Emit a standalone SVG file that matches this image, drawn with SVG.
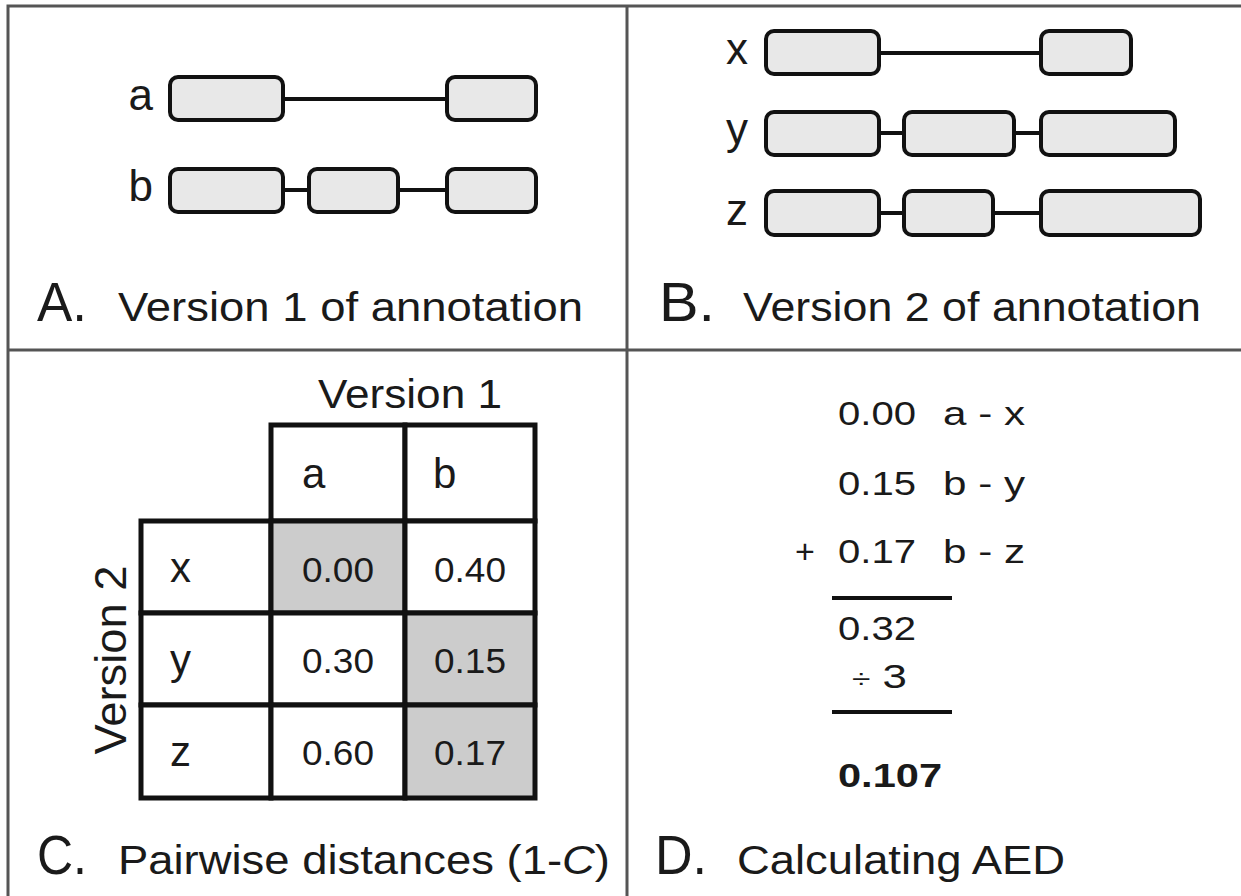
<svg xmlns="http://www.w3.org/2000/svg" width="1241" height="896" viewBox="0 0 1241 896">
<style>
.t{font-family:"Liberation Sans",Arial,sans-serif;fill:#1a1a1a}
.ex{fill:#e8e8e8;stroke:#111;stroke-width:4}
.in{stroke:#111;stroke-width:4;fill:none}
.cell{stroke:#111;stroke-width:5;fill:#fff}
.g{fill:#cccccc}
.frame{fill:none;stroke:#555;stroke-width:3}
.rule{stroke:#111;stroke-width:4}
</style>
<rect width="1241" height="896" fill="#fff"/>
<g id="frame">
<rect class="frame" x="8" y="6" width="1240" height="895"/>
<line class="frame" x1="627" y1="6" x2="627" y2="896"/>
<line class="frame" x1="8" y1="350" x2="1241" y2="350"/>
</g>
<g id="connectors">
<line class="in" x1="283" y1="99" x2="447" y2="99"/>
<line class="in" x1="283" y1="190" x2="309" y2="190"/>
<line class="in" x1="398" y1="190" x2="447" y2="190"/>
<line class="in" x1="879" y1="53" x2="1041" y2="53"/>
<line class="in" x1="879" y1="133" x2="904" y2="133"/>
<line class="in" x1="1014" y1="133" x2="1041" y2="133"/>
<line class="in" x1="879" y1="213" x2="904" y2="213"/>
<line class="in" x1="993" y1="213" x2="1041" y2="213"/>
</g>
<g id="gene-a">
<text class="t" x="153" y="110" font-size="44" text-anchor="end">a</text>
<rect class="ex" x="170" y="77" width="113" height="43" rx="8"/>
<rect class="ex" x="447" y="77" width="89" height="43" rx="8"/>
</g>
<g id="gene-b">
<text class="t" x="153" y="201" font-size="44" text-anchor="end">b</text>
<rect class="ex" x="170" y="169" width="113" height="43" rx="8"/>
<rect class="ex" x="309" y="169" width="89" height="43" rx="8"/>
<rect class="ex" x="447" y="169" width="89" height="43" rx="8"/>
</g>
<g id="gene-x">
<text class="t" x="748" y="64" font-size="44" text-anchor="end">x</text>
<rect class="ex" x="766" y="31" width="113" height="43" rx="8"/>
<rect class="ex" x="1041" y="31" width="90" height="43" rx="8"/>
</g>
<g id="gene-y">
<text class="t" x="748" y="144" font-size="44" text-anchor="end">y</text>
<rect class="ex" x="766" y="112" width="113" height="43" rx="8"/>
<rect class="ex" x="904" y="112" width="110" height="43" rx="8"/>
<rect class="ex" x="1041" y="112" width="134" height="43" rx="8"/>
</g>
<g id="gene-z">
<text class="t" x="748" y="225" font-size="44" text-anchor="end">z</text>
<rect class="ex" x="766" y="191" width="113" height="44" rx="8"/>
<rect class="ex" x="904" y="191" width="89" height="44" rx="8"/>
<rect class="ex" x="1041" y="191" width="159" height="44" rx="8"/>
</g>
<g id="title-a">
<text class="t" x="37" y="321" font-size="56" textLength="50" lengthAdjust="spacingAndGlyphs">A.</text>
<text class="t" x="118" y="321" font-size="41" textLength="465" lengthAdjust="spacingAndGlyphs">Version 1 of annotation</text>
</g>
<g id="title-b">
<text class="t" x="659" y="321" font-size="56" textLength="56" lengthAdjust="spacingAndGlyphs">B.</text>
<text class="t" x="743" y="321" font-size="41" textLength="458" lengthAdjust="spacingAndGlyphs">Version 2 of annotation</text>
</g>
<g id="table">
<text class="t" x="318" y="408" font-size="40" textLength="184" lengthAdjust="spacingAndGlyphs">Version 1</text>
<text class="t" font-size="44" text-anchor="middle" textLength="189" lengthAdjust="spacingAndGlyphs" transform="translate(126,660) rotate(-90)">Version 2</text>
<rect class="cell" x="271" y="425" width="134" height="96"/>
<rect class="cell" x="405" y="425" width="130" height="96"/>
<rect class="cell" x="141" y="521" width="130" height="92"/>
<rect class="cell g" x="271" y="521" width="134" height="92"/>
<rect class="cell" x="405" y="521" width="130" height="92"/>
<rect class="cell" x="141" y="613" width="130" height="92"/>
<rect class="cell" x="271" y="613" width="134" height="92"/>
<rect class="cell g" x="405" y="613" width="130" height="92"/>
<rect class="cell" x="141" y="705" width="130" height="93"/>
<rect class="cell" x="271" y="705" width="134" height="93"/>
<rect class="cell g" x="405" y="705" width="130" height="93"/>
<text class="t" x="302" y="488" font-size="42">a</text>
<text class="t" x="433" y="488" font-size="42">b</text>
<text class="t" x="170" y="582" font-size="42">x</text>
<text class="t" x="170" y="674" font-size="42">y</text>
<text class="t" x="170" y="766" font-size="42">z</text>
<g font-size="35" text-anchor="middle">
<text class="t" x="338" y="582" textLength="72" lengthAdjust="spacingAndGlyphs">0.00</text>
<text class="t" x="470" y="582" textLength="72" lengthAdjust="spacingAndGlyphs">0.40</text>
<text class="t" x="338" y="673" textLength="72" lengthAdjust="spacingAndGlyphs">0.30</text>
<text class="t" x="470" y="673" textLength="72" lengthAdjust="spacingAndGlyphs">0.15</text>
<text class="t" x="338" y="765" textLength="72" lengthAdjust="spacingAndGlyphs">0.60</text>
<text class="t" x="470" y="765" textLength="72" lengthAdjust="spacingAndGlyphs">0.17</text>
</g>
</g>
<g id="title-c">
<text class="t" x="37" y="874" font-size="56" textLength="50" lengthAdjust="spacingAndGlyphs">C.</text>
<text class="t" x="118" y="874" font-size="41" textLength="492" lengthAdjust="spacingAndGlyphs">Pairwise distances (1-<tspan font-style="italic">C</tspan>)</text>
</g>
<g id="calc">
<g font-size="34">
<text class="t" x="838" y="425" textLength="78" lengthAdjust="spacingAndGlyphs">0.00</text>
<text class="t" x="943" y="425" textLength="82" lengthAdjust="spacingAndGlyphs">a - x</text>
<text class="t" x="838" y="495" textLength="78" lengthAdjust="spacingAndGlyphs">0.15</text>
<text class="t" x="943" y="495" textLength="82" lengthAdjust="spacingAndGlyphs">b - y</text>
<text class="t" x="795" y="563">+</text>
<text class="t" x="838" y="563" textLength="78" lengthAdjust="spacingAndGlyphs">0.17</text>
<text class="t" x="943" y="563" textLength="82" lengthAdjust="spacingAndGlyphs">b - z</text>
<text class="t" x="838" y="640" textLength="78" lengthAdjust="spacingAndGlyphs">0.32</text>
<text class="t" x="852" y="688" textLength="55" lengthAdjust="spacingAndGlyphs"><tspan font-size="26">÷</tspan> 3</text>
<text class="t" x="838" y="787" font-weight="bold" textLength="104" lengthAdjust="spacingAndGlyphs">0.107</text>
</g>
<line class="rule" x1="832" y1="598" x2="952" y2="598"/>
<line class="rule" x1="832" y1="712" x2="952" y2="712"/>
</g>
<g id="title-d">
<text class="t" x="655" y="874" font-size="56" textLength="52" lengthAdjust="spacingAndGlyphs">D.</text>
<text class="t" x="737" y="874" font-size="41" textLength="328" lengthAdjust="spacingAndGlyphs">Calculating AED</text>
</g>
</svg>
